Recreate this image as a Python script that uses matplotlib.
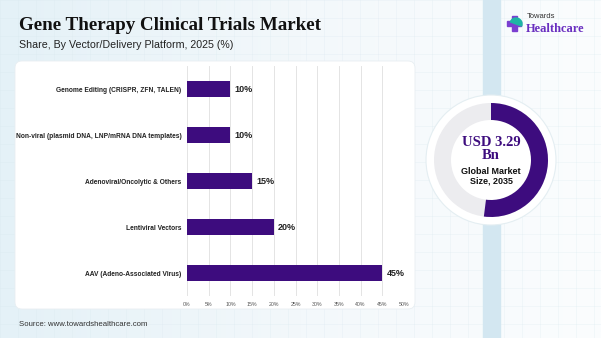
import numpy as np
import matplotlib

matplotlib.use("Agg")

import matplotlib.pyplot as plt
from matplotlib.patches import FancyBboxPatch, Wedge, Circle, Rectangle

# data
categories = [
    "Genome Editing (CRISPR, ZFN, TALEN)",
    "Non-viral (plasmid DNA, LNP/mRNA DNA templates)",
    "Adenoviral/Oncolytic & Others",
    "Lentiviral Vectors",
    "AAV (Adeno-Associated Virus)",
]
shares = [10, 10, 15, 20, 45]
x_ticks = [0, 5, 10, 15, 20, 25, 30, 35, 40, 45, 50]
x_tick_labels = [f"{t}%" for t in x_ticks]

title = "Gene Therapy Clinical Trials Market"
subtitle = "Share, By Vector/Delivery Platform, 2025 (%)"
source = "Source: www.towardshealthcare.com"
market_value = "USD 3.29\nBn"
market_label = "Global Market\nSize, 2035"
donut_share = 0.52

W, H = 601, 338
PURPLE = "#3d0c7e"

fig = plt.figure(figsize=(W / 100, H / 100), dpi=100)

# background in pixel coordinates
bg = fig.add_axes([0, 0, 1, 1])
bg.set_xlim(0, W)
bg.set_ylim(H, 0)
bg.axis("off")
grad = np.linspace(0, 1, 256)[None, :]
bg.imshow(grad, extent=[0, W, H, 0], cmap=matplotlib.colors.LinearSegmentedColormap.from_list(
    "bgc", ["#e4f1f7", "#f3f8fb", "#fbfdfe"]), aspect="auto", zorder=0)
for gx in range(0, W, 18):
    bg.axvline(gx, color="#d6e6ee", lw=0.4, alpha=0.4, zorder=0.5)
for gy in range(0, H, 18):
    bg.axhline(gy, color="#d6e6ee", lw=0.4, alpha=0.4, zorder=0.5)
bg.add_patch(Rectangle((483, 0), 17, H, color="#d3e7f1", zorder=1))

# chart card
bg.add_patch(FancyBboxPatch((15, 61), 400, 248, boxstyle="round,pad=0,rounding_size=7",
                            facecolor="white", edgecolor="#e8eef2", lw=0.6, zorder=2))

# titles
bg.text(19, 26, title, fontsize=13.7, fontweight="bold", family="Liberation Serif",
        color="#111111", va="center", ha="left", zorder=3)
bg.text(19, 45, subtitle, fontsize=7.7, family="Liberation Sans", color="#222222",
        va="center", ha="left", zorder=3)
bg.text(19, 324, source, fontsize=5.6, family="Liberation Sans", color="#333333",
        va="center", ha="left", zorder=3)

# logo
bg.add_patch(Rectangle((507, 21), 14, 5, color="#7b3fd1", zorder=3))
bg.add_patch(Rectangle((511.5, 16), 5, 15, color="#7b3fd1", zorder=3))
bg.add_patch(Wedge((516, 24), 6, 200, 20, color="#1fb5a5", zorder=4))
bg.text(527, 17, "Towards", fontsize=5.5, family="Liberation Sans", color="#333333",
        va="center", ha="left", zorder=3)
bg.text(526, 29, "Healthcare", fontsize=9, fontweight="bold", family="Liberation Serif",
        color="#6a2fc0", va="center", ha="left", zorder=3)

# donut
cx, cy = 491, 160
bg.add_patch(Circle((cx, cy), 65, facecolor="white", edgecolor="#e4eef2", lw=0.8, zorder=2))
bg.add_patch(Wedge((cx, cy), 57, 0, 360, width=17, facecolor="#ececef", edgecolor="none", zorder=3))
# y axis is inverted here, so angles go clockwise on screen
bg.add_patch(Wedge((cx, cy), 57, -90, -90 + 360 * donut_share, width=17,
                   facecolor=PURPLE, edgecolor="none", zorder=4))
bg.text(cx, 149, market_value, fontsize=10.5, fontweight="bold", family="Liberation Serif",
        color=PURPLE, ha="center", va="center", linespacing=0.95, zorder=5)
bg.text(cx, 176, market_label, fontsize=6.5, fontweight="bold", family="Liberation Sans",
        color="#111111", ha="center", va="center", linespacing=1.1, zorder=5)

# bar chart
left, right, top, bottom = 187, 404, 66, 296
ax = fig.add_axes([left / W, 1 - bottom / H, (right - left) / W, (bottom - top) / H])
ax.set_zorder(3)
ax.patch.set_alpha(0)
y = np.arange(len(categories))
ax.barh(y, shares, height=0.35, color=PURPLE, zorder=3)
for yi, v in zip(y, shares):
    ax.text(v + 1, yi, f"{v}%", fontsize=6.5, fontweight="bold", family="Liberation Sans",
            color="#222222", va="center", ha="left")
ax.set_xlim(0, 50)
ax.set_ylim(len(categories) - 0.5, -0.5)
ax.set_xticks(x_ticks)
ax.set_xticklabels(x_tick_labels, fontsize=3.8, color="#555555", family="Liberation Sans")
ax.set_yticks(y)
ax.set_yticklabels(categories, fontsize=4.8, fontweight="bold", family="Liberation Sans", color="#222222")
ax.tick_params(axis="both", length=0, pad=4)
ax.tick_params(axis="x", pad=4)
ax.grid(axis="x", color="#e4e4e4", lw=0.7, zorder=0)
for s in ax.spines.values():
    s.set_visible(False)

fig.savefig("out.png", dpi=100)
